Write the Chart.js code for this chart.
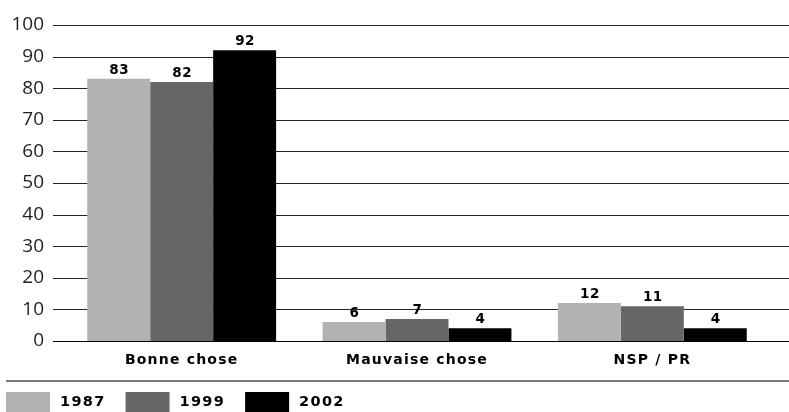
<!DOCTYPE html>
<html>
<head>
<meta charset="utf-8">
<script src="https://cdn.jsdelivr.net/npm/chart.js@4/dist/chart.umd.min.js"></script>
<style>
  html, body { margin: 0; padding: 0; background: #ffffff; }
  #wrap { width: 789px; height: 412px; position: relative; }
</style>
</head>
<body>
<div id="wrap"><canvas id="c" width="789" height="412"></canvas></div>
<script>
// Opinion survey: share of answers (%) by year
const categories = ['Bonne chose', 'Mauvaise chose', 'NSP / PR'];
const years = ['1987', '1999', '2002'];
const values1987 = [83, 6, 12];
const values1999 = [82, 7, 11];
const values2002 = [92, 4, 4];
const yTicks = [0, 10, 20, 30, 40, 50, 60, 70, 80, 90, 100];

const colors = ['#b2b2b2', '#666666', '#000000'];
const seriesValues = [values1987, values1999, values2002];

const BOLD_FONT = '"DejaVu Sans", Verdana, sans-serif';

// Horizontal rules across the full width, one per y tick
const gridPlugin = {
  id: 'wideGrid',
  beforeDatasetsDraw(chart) {
    const ctx = chart.ctx;
    const y = chart.scales.y;
    ctx.save();
    ctx.lineWidth = 1;
    y.ticks.forEach(t => {
      const py = Math.round(y.getPixelForValue(t.value)) + 0.5;
      ctx.strokeStyle = t.value === 0 ? '#000000' : '#262626';
      ctx.beginPath();
      ctx.moveTo(53, py);
      ctx.lineTo(789, py);
      ctx.stroke();
    });
    ctx.restore();
  }
};

// Letter spacing for the bold category labels, then values above bars
const textPlugin = {
  id: 'barText',
  beforeDraw(chart) {
    chart.ctx.letterSpacing = '1.2px';
  },
  afterDatasetsDraw(chart) {
    const ctx = chart.ctx;
    ctx.save();
    ctx.letterSpacing = '0.5px';
    ctx.font = 'bold 13.5px ' + BOLD_FONT;
    ctx.fillStyle = '#000000';
    ctx.textAlign = 'center';
    ctx.textBaseline = 'alphabetic';
    chart.data.datasets.forEach((ds, i) => {
      const meta = chart.getDatasetMeta(i);
      meta.data.forEach((bar, j) => {
        ctx.fillText(String(ds.data[j]), bar.x + 0.5, bar.y - 5);
      });
    });
    ctx.restore();
    // y tick labels are drawn after this, with normal spacing
    ctx.letterSpacing = '0px';
  },
  afterDraw(chart) {
    const ctx = chart.ctx;
    ctx.save();
    // separator above the legend
    ctx.fillStyle = '#7a7a7a';
    ctx.fillRect(6, 380, 783, 2);
    // legend row
    ctx.letterSpacing = '1.3px';
    ctx.font = 'bold 14.5px ' + BOLD_FONT;
    ctx.textBaseline = 'middle';
    ctx.textAlign = 'left';
    let x = 6;
    chart.data.datasets.forEach(ds => {
      ctx.fillStyle = ds.backgroundColor;
      ctx.fillRect(x, 392, 44, 20);
      const tx = x + 44 + 10;
      ctx.fillStyle = '#000000';
      ctx.fillText(ds.label, tx, 402.5);
      x = tx + ctx.measureText(ds.label).width + 20;
    });
    ctx.restore();
  }
};

new Chart(document.getElementById('c'), {
  type: 'bar',
  data: {
    labels: categories,
    datasets: years.map((yr, i) => ({
      label: yr,
      data: seriesValues[i],
      backgroundColor: colors[i],
      borderWidth: 0,
      categoryPercentage: 0.8025,
      barPercentage: 1.0
    }))
  },
  options: {
    responsive: false,
    animation: false,
    devicePixelRatio: 1,
    layout: { padding: { left: 0, right: 19, top: 25, bottom: 0 } },
    plugins: {
      legend: { display: false },
      tooltip: { enabled: false }
    },
    scales: {
      x: {
        grid: { display: false, drawTicks: false },
        border: { display: false },
        ticks: {
          color: '#000000',
          font: { family: BOLD_FONT, size: 14, weight: 'bold' },
          padding: 11,
          maxRotation: 0,
          autoSkip: false
        },
        afterFit(scale) { scale.height = 71; scale.paddingLeft = 0; scale.paddingRight = 0; }
      },
      y: {
        min: 0,
        max: 100,
        afterBuildTicks(scale) { scale.ticks = yTicks.map(v => ({ value: v })); },
        grid: { display: false, drawTicks: false },
        border: { display: false },
        ticks: {
          z: 1,
          color: '#1f1f1f',
          font: { family: '"Open Sans", sans-serif', size: 19 },
          padding: 20
        },
        afterFit(scale) { scale.width = 64; scale.paddingTop = 0; scale.paddingBottom = 0; }
      }
    }
  },
  plugins: [gridPlugin, textPlugin]
});
</script>
</body>
</html>
